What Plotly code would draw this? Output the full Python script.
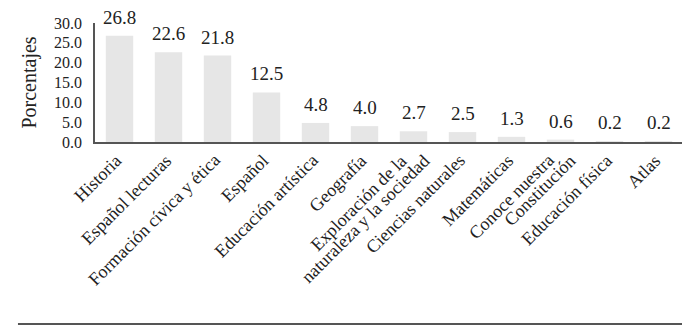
import plotly.graph_objects as go

categories = ["Historia", "Español lecturas", "Formación cívica y ética", "Español",
              "Educación artística", "Geografía", "Exploración de la<br>naturaleza y la sociedad",
              "Ciencias naturales", "Matemáticas", "Conoce nuestra<br>Constitución",
              "Educación física", "Atlas"]
values = [26.8, 22.6, 21.8, 12.5, 4.8, 4.0, 2.7, 2.5, 1.3, 0.6, 0.2, 0.2]
y_ticks = [0, 5, 10, 15, 20, 25, 30]

FONT = "Liberation Serif"
INK = "#222222"
XFONT = 18

fig = go.Figure(go.Bar(
    x=categories, y=values,
    marker=dict(color="#e6e6e6", line=dict(width=0)),
    width=0.56,
    cliponaxis=False,
    hoverinfo="y",
))

# value labels above the bars
for c, v in zip(categories, values):
    fig.add_annotation(x=c, y=v, text=f"{v:.1f}", showarrow=False,
                       yanchor="bottom", yshift=6,
                       font=dict(family=FONT, size=19, color=INK))

# rotated category labels (each line anchored at the same depth below the axis)
for c in categories:
    lines = c.split("<br>")
    n = len(lines)
    for k, line in enumerate(lines):
        fig.add_annotation(x=c, y=0, text=line, showarrow=False, textangle=-45,
                           xanchor="right", yanchor="top",
                           xshift=9 + (k - (n - 1) / 2) * 22.5 + (2 if n > 1 else 0),
                           yshift=-6,
                           font=dict(family=FONT, size=XFONT, color=INK))

fig.update_layout(
    width=675, height=320,
    margin=dict(l=87, r=0, t=15, b=186, autoexpand=False),
    paper_bgcolor="white", plot_bgcolor="white",
    font=dict(family=FONT, size=16, color=INK),
    showlegend=False,
)
fig.update_yaxes(
    range=[0, 30], tickvals=y_ticks, ticktext=[f"{v:.1f}" for v in y_ticks],
    showgrid=False, zeroline=False, showline=True, linecolor="#555", linewidth=1.5,
    ticks="", ticklabelstandoff=8, automargin=False,
    tickfont=dict(family=FONT, size=16, color=INK),
    title=dict(text="Porcentajes", font=dict(family=FONT, size=20, color=INK), standoff=12),
)
fig.update_xaxes(
    type="category", categoryorder="array", categoryarray=categories,
    range=[-0.5, len(categories) - 0.5],
    showgrid=False, showline=True, linecolor="#555", linewidth=1.5, ticks="",
    showticklabels=False, automargin=False,
)
fig.add_shape(type="line", xref="paper", yref="paper",
              x0=-0.131, x1=1.0, y0=-1.529, y1=-1.529,
              line=dict(color="#555", width=2))

fig.write_html("out.html")
